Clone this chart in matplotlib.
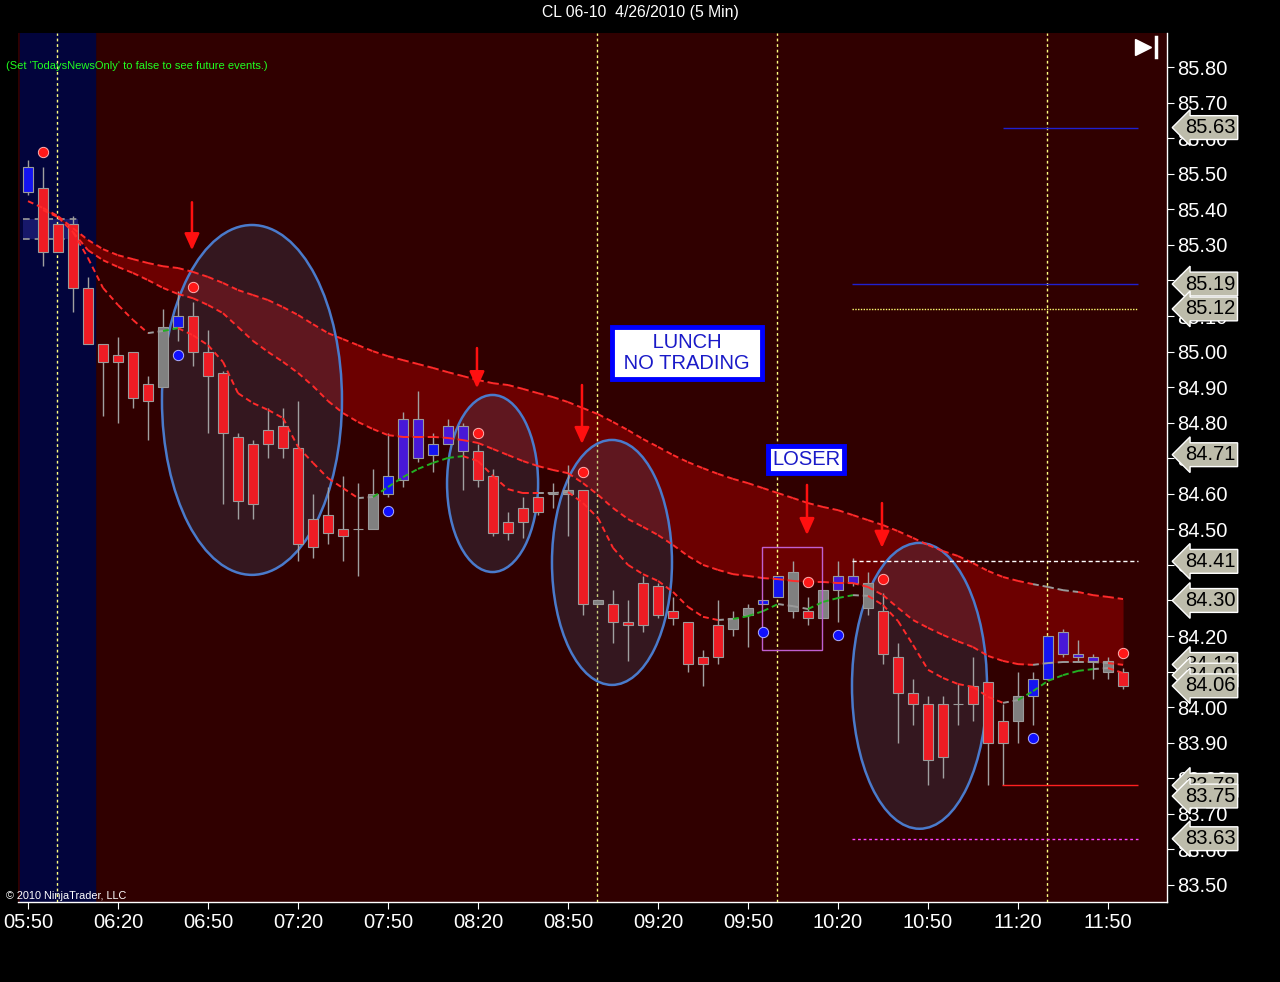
import matplotlib
matplotlib.use("Agg")
import matplotlib.pyplot as plt
from matplotlib.patches import Ellipse, Rectangle
from matplotlib.collections import LineCollection
import numpy as np

plt.rcParams['font.family'] = ['Liberation Sans', 'DejaVu Sans']

# 5 minute bars starting 05:50
opens = [85.45, 85.46, 85.36, 85.36, 85.18, 85.02, 84.99, 85.00, 84.91, 84.90,
         85.07, 85.10, 85.00, 84.94, 84.76, 84.74, 84.78, 84.79, 84.73, 84.53,
         84.54, 84.50, 84.50, 84.50, 84.60, 84.64, 84.70, 84.71, 84.74, 84.72,
         84.72, 84.65, 84.52, 84.56, 84.59, 84.60, 84.60, 84.61, 84.30, 84.29,
         84.24, 84.35, 84.34, 84.27, 84.24, 84.14, 84.23, 84.22, 84.26, 84.29,
         84.31, 84.27, 84.27, 84.25, 84.33, 84.35, 84.35, 84.27, 84.14, 84.04,
         84.01, 84.01, 84.01, 84.06, 84.07, 83.96, 83.96, 84.03, 84.08, 84.15,
         84.14, 84.13, 84.10, 84.10]
highs = [85.54, 85.52, 85.36, 85.38, 85.21, 85.02, 85.04, 85.00, 84.93, 85.12,
         85.17, 85.14, 85.06, 84.945, 84.77, 84.75, 84.84, 84.84, 84.86, 84.60,
         84.62, 84.65, 84.63, 84.67, 84.77, 84.83, 84.89, 84.77, 84.81, 84.80,
         84.74, 84.67, 84.55, 84.59, 84.59, 84.63, 84.68, 84.61, 84.30, 84.33,
         84.30, 84.37, 84.35, 84.31, 84.24, 84.16, 84.30, 84.27, 84.29, 84.30,
         84.37, 84.41, 84.31, 84.33, 84.41, 84.42, 84.38, 84.32, 84.18, 84.08,
         84.03, 84.03, 84.065, 84.14, 84.07, 84.01, 84.10, 84.10, 84.20, 84.22,
         84.19, 84.15, 84.14, 84.11]
lows = [85.44, 85.24, 85.28, 85.11, 85.02, 84.82, 84.80, 84.84, 84.75, 84.90,
        85.03, 84.96, 84.77, 84.57, 84.53, 84.53, 84.70, 84.70, 84.41, 84.42,
        84.46, 84.41, 84.37, 84.50, 84.59, 84.62, 84.69, 84.66, 84.74, 84.61,
        84.62, 84.48, 84.47, 84.475, 84.54, 84.56, 84.48, 84.26, 84.29, 84.18,
        84.13, 84.21, 84.25, 84.23, 84.10, 84.06, 84.12, 84.20, 84.17, 84.29,
        84.31, 84.25, 84.23, 84.25, 84.24, 84.34, 84.26, 84.12, 83.90, 83.95,
        83.78, 83.80, 83.95, 83.96, 83.78, 83.78, 83.90, 83.95, 84.08, 84.14,
        84.13, 84.08, 84.08, 84.05]
closes = [85.52, 85.28, 85.28, 85.18, 85.02, 84.97, 84.97, 84.87, 84.86, 85.07,
          85.10, 85.00, 84.93, 84.77, 84.58, 84.57, 84.74, 84.73, 84.46, 84.45,
          84.49, 84.48, 84.50, 84.60, 84.65, 84.81, 84.81, 84.74, 84.79, 84.79,
          84.64, 84.49, 84.49, 84.52, 84.55, 84.60, 84.61, 84.29, 84.29, 84.24,
          84.23, 84.23, 84.26, 84.25, 84.12, 84.12, 84.14, 84.25, 84.28, 84.30,
          84.37, 84.38, 84.25, 84.33, 84.37, 84.37, 84.28, 84.15, 84.04, 84.01,
          83.85, 83.86, 84.01, 84.01, 83.90, 83.90, 84.03, 84.08, 84.20, 84.21,
          84.15, 84.14, 84.13, 84.06]
# r = down, b = up, p = up (violet), k = neutral (gray)
bar_kind = ("b" + "r" * 8 + "k" + "b" + "r" * 11 + "kk" + "bppbpp" + "r" * 5 + "kk" + "rk"
            + "r" * 8 + "kk" + "bb" + "k" + "r" + "k" + "pp" + "k" + "r" * 5 + "k" + "rrr"
            + "k" + "bb" + "ppp" + "k" + "r")

# envelope / moving average lines (one value per bar, None = not drawn)
upper_line = [85.423, 85.404, 85.381, 85.347, 85.314, 85.288, 85.271, 85.260, 85.249, 85.240,
              85.235, 85.224, 85.210, 85.193, 85.173, 85.159, 85.145, 85.125, 85.103, 85.077,
              85.052, 85.035, 85.018, 85.001, 84.987, 84.976, 84.965, 84.954, 84.942, 84.931,
              84.920, 84.911, 84.906, 84.895, 84.883, 84.872, 84.858, 84.841, 84.824, 84.802,
              84.779, 84.754, 84.732, 84.709, 84.689, 84.672, 84.656, 84.642, 84.630, 84.616,
              84.602, 84.588, 84.574, 84.563, 84.554, 84.540, 84.526, 84.512, 84.495, 84.476,
              84.456, 84.439, 84.425, 84.405, 84.383, 84.366, 84.355, 84.346, 84.338, 84.329,
              84.324, 84.315, 84.310, 84.304]
upper_kind = "r" * 68 + "kkk" + "rrr"
middle_line = [None, 85.398, 85.378, 85.336, 85.285, 85.257, 85.238, 85.221, 85.201, 85.179,
               85.162, 85.150, 85.131, 85.108, 85.069, 85.030, 84.999, 84.971, 84.940, 84.903,
               84.861, 84.827, 84.802, 84.782, 84.765, 84.760, 84.760, 84.760, 84.757, 84.751,
               84.743, 84.726, 84.709, 84.692, 84.678, 84.667, 84.658, 84.630, 84.597, 84.560,
               84.529, 84.507, 84.484, 84.456, 84.425, 84.400, 84.386, 84.374, 84.369, 84.363,
               84.360, 84.355, 84.352, 84.352, 84.349, 84.349, 84.338, 84.315, 84.279, 84.245,
               84.223, 84.203, 84.185, 84.169, 84.144, 84.130, 84.121, 84.119, 84.124, 84.127,
               84.127, 84.127, 84.124, 84.119]
middle_kind = "r" * 68 + "kkkkk" + "r"
fast_line = [None, None, None, 85.336, 85.263, 85.179, 85.131, 85.089, 85.052, 85.058,
             85.066, 85.046, 85.018, 84.971, 84.883, 84.855, 84.836, 84.813, 84.732, 84.687,
             84.644, 84.616, 84.588, 84.591, 84.619, 84.647, 84.670, 84.687, 84.701, 84.706,
             84.692, 84.650, 84.613, 84.602, 84.602, 84.602, 84.605, 84.574, 84.532, 84.448,
             84.400, 84.374, 84.355, 84.324, 84.282, 84.254, 84.245, 84.248, 84.256, 84.270,
             84.290, 84.284, 84.276, 84.296, 84.307, 84.315, 84.313, 84.287, 84.242, 84.175,
             84.105, 84.082, 84.065, 84.057, 84.029, 84.012, 84.020, 84.045, 84.074, 84.090,
             84.102, 84.107, 84.110, 84.096]
fast_kind = ("rrrr" + "r" * 5 + "k" + "g" + "r" * 12 + "k" + "g" * 6 + "r" * 5 + "kk"
             + "r" * 10 + "k" + "ggg" + "kk" + "ggg" + "k" + "r" * 9 + "k" + "g" * 5 + "k" + "r")

red_dots = [(1, 85.561), (11, 85.181), (30, 84.771), (37, 84.661), (52, 84.352), (57, 84.360), (73, 84.152)]
blue_dots = [(10, 84.990), (24, 84.552), (49, 84.211), (54, 84.203), (67, 83.913)]
arrows = [(10.93, 85.420, 85.285), (29.93, 85.010, 84.897), (36.93, 84.906, 84.740),
          (51.93, 84.625, 84.484), (56.93, 84.574, 84.448)]
ellipses = [(14.93, 84.864, 12.0, 0.984), (30.97, 84.629, 6.07, 0.498),
            (38.93, 84.407, 8.0, 0.689), (59.43, 84.060, 9.0, 0.804)]
event_bars = [1.93, 37.93, 49.93, 67.93]
right_labels = [85.63, 85.19, 85.12, 84.71, 84.41, 84.30, 84.12, 84.09, 84.06, 83.78, 83.75, 83.63]
time_labels = ["05:50", "06:20", "06:50", "07:20", "07:50", "08:20", "08:50",
               "09:20", "09:50", "10:20", "10:50", "11:20", "11:50"]

body_colors = {'r': '#ee1c24', 'b': '#1414f0', 'p': '#4818d8', 'k': '#808080'}
line_colors = {'r': '#ff2a2a', 'g': '#22b022', 'k': '#9a9a9a'}

fig = plt.figure(figsize=(12.8, 9.82), dpi=100, facecolor='black')
ax = fig.add_axes([18 / 1280, 80 / 982, 1149 / 1280, 869 / 982])
ax.set_facecolor('#300000')
ax.set_xlim(-0.667, 75.93)
ax.set_ylim(83.452, 85.896)

x = np.arange(len(opens))

# session shading
ax.axvspan(-0.53, 4.47, color='#02043c', zorder=0)
ax.add_patch(Rectangle((-0.33, 85.316), 3.66, 0.057, facecolor='#2a2a90', alpha=0.55, lw=0, zorder=1))
ax.hlines([85.373, 85.316], -0.33, 3.33, colors='#9a9a9a', linestyles=(0, (4, 3)), lw=1.2, zorder=4)

# band between the upper and middle lines
up = np.array(upper_line[1:])
mid = np.array(middle_line[1:], dtype=float)
ax.fill_between(x[1:], mid, up, color='#6c0000', lw=0, zorder=1)

for eb in event_bars:
    ax.axvline(eb, color='#ffff80', lw=1, ls=(0, (2, 2)), zorder=2)

for cx, cy, w, h in ellipses:
    ax.add_patch(Ellipse((cx, cy), w, h, facecolor=(0.25, 0.33, 0.45, 0.28),
                         edgecolor='#4a7acb', lw=1.8, zorder=2))

# candles
ax.vlines(x, lows, highs, colors='#a0a0a0', lw=1, zorder=3)
for i in range(len(opens)):
    lo = min(opens[i], closes[i])
    hgt = abs(closes[i] - opens[i])
    ax.bar(x[i], hgt, bottom=lo, width=0.667, color=body_colors[bar_kind[i]],
           edgecolor='#9a9a9a', lw=0.8, zorder=4)


def colored_line(vals, kinds):
    segs, cols = [], []
    for i in range(1, len(vals)):
        if vals[i - 1] is None or vals[i] is None:
            continue
        segs.append([(x[i - 1], vals[i - 1]), (x[i], vals[i])])
        cols.append(line_colors[kinds[i]])
    ax.add_collection(LineCollection(segs, colors=cols, linewidths=1.4,
                                     linestyles=(0, (3, 2)), zorder=5))


colored_line(upper_line, upper_kind)
colored_line(middle_line, middle_kind)
colored_line(fast_line, fast_kind)

# right side level lines
ax.hlines(85.63, 65, 74, colors='#2020d0', lw=1, zorder=5)
ax.hlines(85.19, 54.93, 74, colors='#2020d0', lw=1, zorder=5)
ax.hlines(85.12, 54.93, 74, colors='#ffff70', lw=1, linestyles=(0, (1, 1)), zorder=5)
ax.hlines(84.41, 54.93, 74, colors='white', lw=1, linestyles=(0, (3, 2)), zorder=5)
ax.hlines(83.78, 64.93, 74, colors='#ff2020', lw=1, zorder=5)
ax.hlines(83.63, 54.93, 74, colors='#ff40ff', lw=1, linestyles=(0, (2, 2)), zorder=5)

ax.add_patch(Rectangle((48.93, 84.16), 4.0, 0.29, fill=False, edgecolor='#c060d0', lw=1, zorder=6))

ax.scatter([d[0] for d in red_dots], [d[1] for d in red_dots], s=55, c='#ff1818',
           edgecolors='#ffb0b0', linewidths=0.7, zorder=7)
ax.scatter([d[0] for d in blue_dots], [d[1] for d in blue_dots], s=55, c='#1010ff',
           edgecolors='#b0b0ff', linewidths=0.7, zorder=7)

for ab, tail, tip in arrows:
    ax.annotate('', xy=(ab, tip), xytext=(ab, tail),
                arrowprops=dict(arrowstyle='-|>,head_length=1.0,head_width=0.45',
                                color='#ff1010', lw=1.8, shrinkA=0, shrinkB=0,
                                mutation_scale=10), zorder=8)

box = dict(boxstyle='square,pad=0.3', facecolor='white', edgecolor='#0000ff', lw=3.5)
ax.text(43.93, 84.996, ' LUNCH \n NO TRADING ', ha='center', va='center', fontsize=14.5,
        color='#1a1ac8', linespacing=1.1, bbox=box, zorder=9)
ax.text(51.87, 84.696, 'LOSER', ha='center', va='center', fontsize=14.5,
        color='#1a1ac8', bbox=dict(boxstyle='square,pad=0.2', facecolor='white',
                                   edgecolor='#0000ff', lw=3.5), zorder=9)

# axes styling
for s in ['top', 'left']:
    ax.spines[s].set_visible(False)
for s in ['right', 'bottom']:
    ax.spines[s].set_color('white')
    ax.spines[s].set_linewidth(1)
ax.yaxis.tick_right()
yt = np.round(np.arange(83.5, 85.81, 0.1), 2)
ax.set_yticks(yt)
ax.set_yticklabels([f"{v:.2f}" for v in yt])
ax.set_xticks(np.arange(0, 73, 6))
ax.set_xticklabels(time_labels)
ax.tick_params(axis='y', colors='white', labelsize=14.5, length=5, pad=2)
ax.tick_params(axis='x', colors='white', labelsize=14.5, length=5, pad=3)

ltrans = ax.get_yaxis_transform()
for v in right_labels:
    ax.text(1.0155, v, f"{v:.2f}", transform=ltrans, ha='left', va='center', fontsize=14.5,
            color='black', clip_on=False, zorder=10,
            bbox=dict(boxstyle='larrow,pad=0.12', facecolor='#bdbcab', edgecolor='white', lw=1))

# play/end icon
ax.plot([0.979], [0.984], marker='>', ms=11, color='white', transform=ax.transAxes, clip_on=False, zorder=10)
ax.plot([0.9905, 0.9905], [0.972, 0.995], color='white', lw=2.5, transform=ax.transAxes, clip_on=False, zorder=10)

fig.text(0.5, 1 - 13 / 982, 'CL 06-10  4/26/2010 (5 Min)', ha='center', va='center', color='white', fontsize=11.3)
fig.text(6 / 1280, 1 - 66 / 982, "(Set 'TodaysNewsOnly' to false to see future events.)",
         ha='left', va='center', color='#20ff20', fontsize=8)
fig.text(6 / 1280, 1 - 896 / 982, '\u00a9 2010 NinjaTrader, LLC', ha='left', va='center',
         color='white', fontsize=7.8)

fig.savefig('out.png', dpi=100, facecolor='black')
